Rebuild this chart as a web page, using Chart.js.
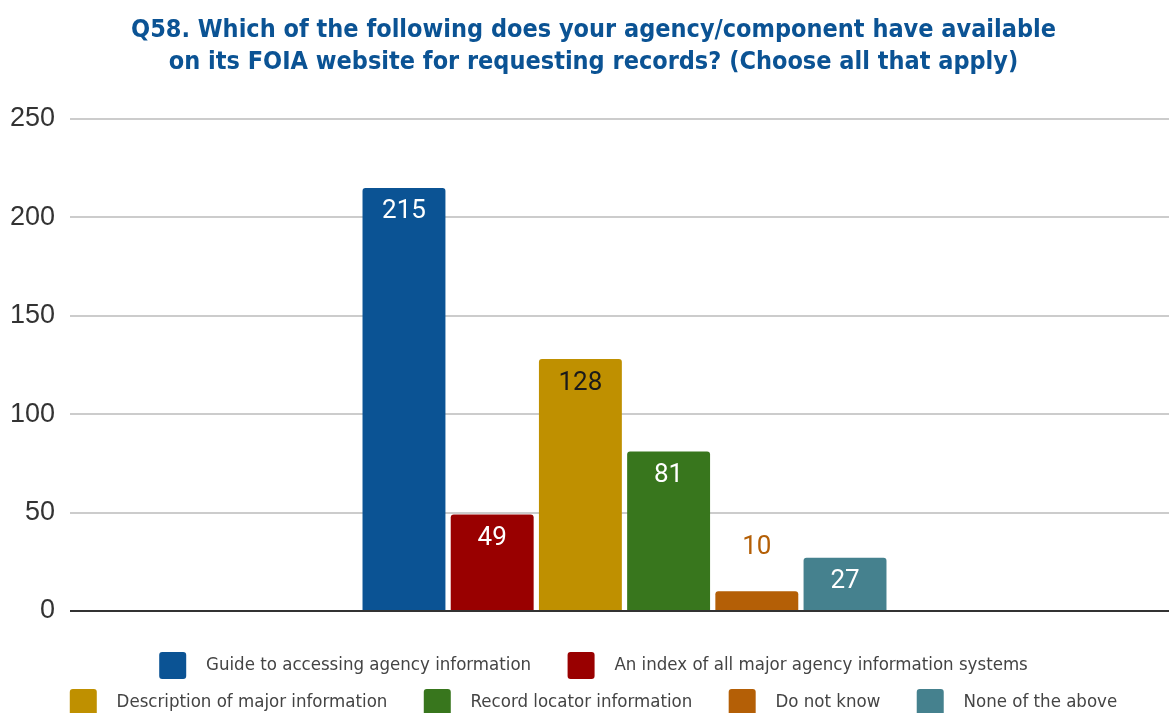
<!DOCTYPE html>
<html>
<head>
<meta charset="utf-8">
<script src="https://cdn.jsdelivr.net/npm/chart.js@4/dist/chart.umd.min.js"></script>
<style>
  html, body { margin: 0; padding: 0; background: #fff; }
  #wrap { width: 1169px; height: 713px; }
</style>
</head>
<body>
<div id="wrap"><canvas id="q58"></canvas></div>
<script>
const categories = [''];
const seriesNames = [
  'Guide to accessing agency information',
  'An index of all major agency information systems',
  'Description of major information',
  'Record locator information',
  'Do not know',
  'None of the above'
];
const seriesValues = [215, 49, 128, 81, 10, 27];
const seriesColors = ['#0b5394', '#990000', '#bf9000', '#38761d', '#b45f06', '#45818e'];
const valueLabelColors = ['#ffffff', '#ffffff', '#1a1a1a', '#ffffff', '#b45f06', '#ffffff'];
const yTicks = [0, 50, 100, 150, 200, 250];
const rowEnds = [1, 5]; // last legend entry of each legend row

const narrow = "'Liberation Sans Narrow', 'Arial Narrow', 'DejaVu Sans Condensed', sans-serif";

const datasets = seriesNames.map((name, i) => ({
  label: name,
  data: [seriesValues[i]],
  backgroundColor: seriesColors[i],
  borderRadius: { topLeft: 3, topRight: 3 },
  borderSkipped: 'bottom',
  categoryPercentage: 0.486,
  barPercentage: 0.94
}));

// value labels: inside the bar top when it fits, above it otherwise
const valueLabels = {
  id: 'valueLabels',
  afterDatasetsDraw(chart) {
    const ctx = chart.ctx;
    ctx.save();
    ctx.font = "26px Roboto, sans-serif";
    ctx.textAlign = 'center';
    ctx.textBaseline = 'middle';
    chart.data.datasets.forEach((ds, i) => {
      const bar = chart.getDatasetMeta(i).data[0];
      const h = bar.base - bar.y;
      const y = h > 40 ? bar.y + 24 : bar.y - 44;
      ctx.fillStyle = valueLabelColors[i];
      ctx.fillText(String(ds.data[0]), bar.x, y);
    });
    ctx.restore();
  }
};

new Chart(document.getElementById('q58'), {
  type: 'bar',
  data: { labels: categories, datasets },
  options: {
    responsive: true,
    maintainAspectRatio: false,
    animation: false,
    layout: { padding: { left: 8, right: -10, top: 0, bottom: -13 } },
    plugins: {
      title: {
        display: true,
        text: [
          'Q58. Which of the following does your agency/component have available',
          'on its FOIA website for requesting records? (Choose all that apply)'
        ],
        color: '#0b5394',
        font: { family: narrow, size: 25, weight: 'bold', lineHeight: 1.28 },
        padding: { top: 14, bottom: 41 }
      },
      legend: {
        position: 'bottom',
        labels: {
          color: '#444444',
          font: { family: narrow, size: 18.5 },
          boxWidth: 27,
          boxHeight: 27,
          padding: 10,
          generateLabels(chart) {
            return chart.data.datasets.map((ds, i) => ({
              text: '  ' + ds.label + (rowEnds.includes(i) ? '' : '     '),
              fillStyle: seriesColors[i],
              strokeStyle: seriesColors[i],
              lineWidth: 0,
              borderRadius: 3,
              datasetIndex: i,
              fontColor: '#444444'
            }));
          }
        }
      },
      tooltip: { enabled: false }
    },
    scales: {
      x: {
        ticks: { display: false },
        grid: { display: false, drawTicks: false },
        border: { display: false },
        afterFit(scale) { scale.height = 31; }
      },
      y: {
        min: 0,
        max: 250,
        afterBuildTicks(scale) { scale.ticks = yTicks.map(v => ({ value: v })); },
        afterFit(scale) { scale.width = 72; },
        ticks: {
          color: '#333333',
          font: { family: "'Liberation Sans', Arial, sans-serif", size: 27 },
          padding: 15
        },
        grid: {
          drawTicks: true,
          tickLength: 10,
          color: c => c.tick.value === 0 ? '#333333' : '#cccccc',
          tickColor: c => c.tick.value === 0 ? '#333333' : '#cccccc',
          lineWidth: 2
        },
        border: { display: false }
      }
    }
  },
  plugins: [valueLabels]
});
</script>
</body>
</html>
